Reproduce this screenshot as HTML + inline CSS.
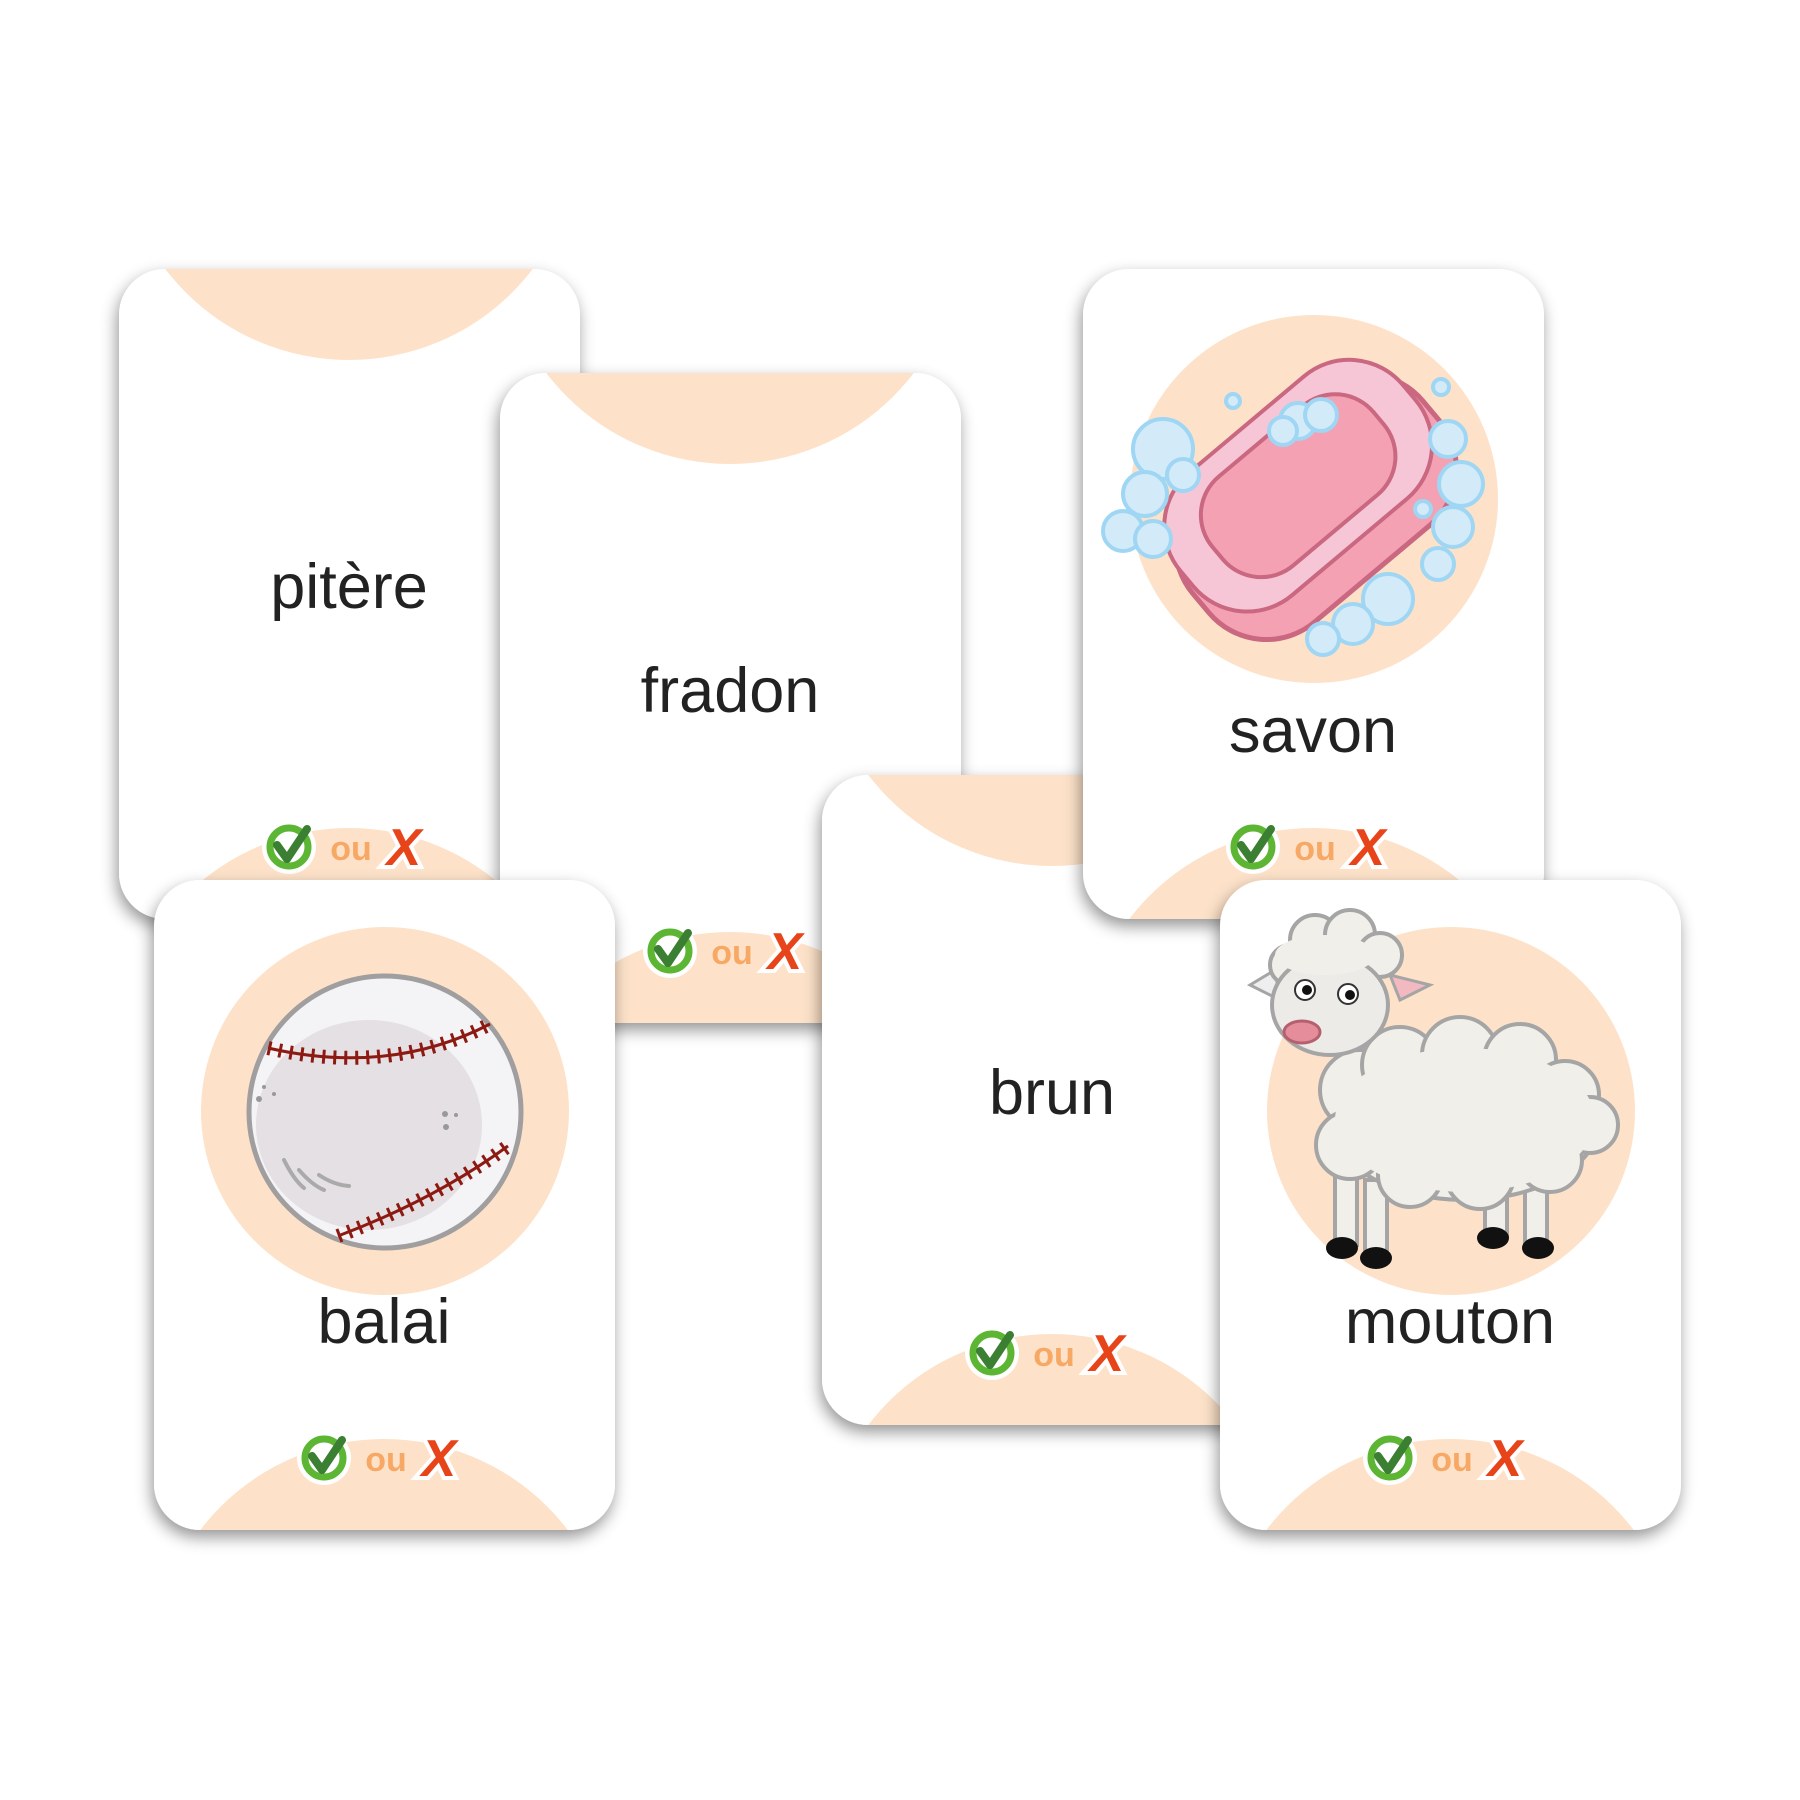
<!DOCTYPE html>
<html><head><meta charset="utf-8">
<style>
html,body{margin:0;padding:0;background:#fff;width:1800px;height:1800px;overflow:hidden;}
svg{display:block;}
.w{font-family:"Liberation Sans","DejaVu Sans",sans-serif;font-size:63px;fill:#222;text-anchor:middle;}
.ou{font-family:"Liberation Sans","DejaVu Sans",sans-serif;font-size:34px;font-weight:bold;fill:#f7a864;text-anchor:middle;}
.x{font-family:"Liberation Sans","DejaVu Sans",sans-serif;font-size:52px;font-weight:bold;font-style:italic;fill:#e8441a;stroke:#fff;stroke-width:8;paint-order:stroke;text-anchor:middle;}
</style></head>
<body>
<svg width="1800" height="1800" viewBox="0 0 1800 1800" xmlns="http://www.w3.org/2000/svg">
<defs>
  <filter id="sh" x="-20%" y="-20%" width="140%" height="140%">
    <feDropShadow dx="-2" dy="7" stdDeviation="8" flood-color="#000" flood-opacity="0.42"/>
  </filter>
  <clipPath id="cp"><rect x="0" y="0" width="461" height="650" rx="46"/></clipPath>
  <g id="icons">
    <circle cx="170" cy="578" r="27" fill="#fff"/>
    <circle cx="170" cy="578" r="19" fill="none" stroke="#5cb533" stroke-width="7"/>
    <path d="M158 576 L168 590 L188 560" fill="none" stroke="#3b7f32" stroke-width="8" stroke-linecap="round" stroke-linejoin="round"/>
    <text class="ou" x="232" y="591">ou</text>
    <text class="x" x="285" y="596">X</text>
  </g>
  <g id="topArc"><circle cx="230" cy="-140" r="231" fill="#fde2c9"/></g>
  <g id="botArc"><circle cx="230" cy="790" r="231" fill="#fde2c9"/></g>
</defs>

<g transform="translate(119,269)">
  <rect width="461" height="650" rx="46" fill="#fff" filter="url(#sh)"/>
  <g clip-path="url(#cp)"><use href="#topArc"/><use href="#botArc"/></g>
  <text class="w" x="230" y="339">pitère</text>
  <use href="#icons"/>
</g>

<g transform="translate(500,373)">
  <rect width="461" height="650" rx="46" fill="#fff" filter="url(#sh)"/>
  <g clip-path="url(#cp)"><use href="#topArc"/><use href="#botArc"/></g>
  <text class="w" x="230" y="339">fradon</text>
  <use href="#icons"/>
</g>

<g transform="translate(822,775)">
  <rect width="461" height="650" rx="46" fill="#fff" filter="url(#sh)"/>
  <g clip-path="url(#cp)"><use href="#topArc"/><use href="#botArc"/></g>
  <text class="w" x="230" y="339">brun</text>
  <use href="#icons"/>
</g>

<g transform="translate(1083,269)">
  <rect width="461" height="650" rx="46" fill="#fff" filter="url(#sh)"/>
  <g clip-path="url(#cp)"><use href="#botArc"/></g>
  <circle cx="231" cy="230" r="184" fill="#fde2c9"/>
  <g transform="translate(228,232) rotate(-40)">
    <rect x="-150" y="-80" width="300" height="175" rx="75" fill="#f4a1b4" stroke="#c96880" stroke-width="5"/>
    <rect x="-145" y="-100" width="290" height="160" rx="70" fill="#f7c6d6" stroke="#c96880" stroke-width="4"/>
    <rect x="-105" y="-78" width="210" height="116" rx="50" fill="#f4a1b4" stroke="#c96880" stroke-width="4"/>
  </g>
  <g fill="#d3eaf9" stroke="#9fd6f3" stroke-width="4">
    <circle cx="215" cy="152" r="18"/><circle cx="238" cy="146" r="16"/><circle cx="200" cy="162" r="14"/>
    <circle cx="80" cy="180" r="30"/><circle cx="62" cy="225" r="22"/><circle cx="40" cy="262" r="20"/><circle cx="70" cy="270" r="18"/><circle cx="100" cy="206" r="16"/>
    <circle cx="365" cy="170" r="18"/><circle cx="378" cy="215" r="22"/><circle cx="370" cy="258" r="20"/><circle cx="355" cy="295" r="16"/>
    <circle cx="305" cy="330" r="25"/><circle cx="270" cy="355" r="20"/><circle cx="240" cy="370" r="16"/>
    <circle cx="150" cy="132" r="7"/><circle cx="358" cy="118" r="8"/><circle cx="340" cy="240" r="8"/>
  </g>
  <text class="w" x="230" y="483">savon</text>
  <use href="#icons"/>
</g>

<g transform="translate(154,880)">
  <rect width="461" height="650" rx="46" fill="#fff" filter="url(#sh)"/>
  <g clip-path="url(#cp)"><use href="#botArc"/></g>
  <circle cx="231" cy="231" r="184" fill="#fde2c9"/>
  <circle cx="231" cy="232" r="136" fill="#f4f3f6" stroke="#a09e9f" stroke-width="5"/>
  <ellipse cx="215" cy="245" rx="113" ry="105" fill="#e5e0e4"/>
  <path d="M114 168 Q236 196 336 144" fill="none" stroke="#8d1a12" stroke-width="14" stroke-dasharray="3 8"/>
  <path d="M114 168 Q236 196 336 144" fill="none" stroke="#8d1a12" stroke-width="3"/>
  <path d="M184 356 Q280 320 354 266" fill="none" stroke="#8d1a12" stroke-width="14" stroke-dasharray="3 8"/>
  <path d="M184 356 Q280 320 354 266" fill="none" stroke="#8d1a12" stroke-width="3"/>
  <g fill="#999"><circle cx="105" cy="219" r="3"/><circle cx="110" cy="207" r="2"/><circle cx="120" cy="214" r="2"/><circle cx="291" cy="234" r="3"/><circle cx="292" cy="247" r="3"/><circle cx="302" cy="235" r="2"/></g>
  <path d="M130 280 Q140 300 150 308 M145 290 Q158 305 170 310 M165 295 Q180 305 195 306" fill="none" stroke="#aaa" stroke-width="4" stroke-linecap="round"/>
  <text class="w" x="230" y="463">balai</text>
  <use href="#icons"/>
</g>

<g transform="translate(1220,880)">
  <rect width="461" height="650" rx="46" fill="#fff" filter="url(#sh)"/>
  <g clip-path="url(#cp)"><use href="#botArc"/></g>
  <circle cx="231" cy="231" r="184" fill="#fde2c9"/>
  <g transform="translate(0,30)">
  <g stroke="#a5a5a5" stroke-width="4">
    <rect x="115" y="260" width="22" height="75" fill="#f1efea"/>
    <rect x="145" y="270" width="22" height="75" fill="#f1efea"/>
    <rect x="265" y="260" width="22" height="65" fill="#f1efea"/>
    <rect x="305" y="265" width="22" height="70" fill="#f1efea"/>
  </g>
  <g fill="#111"><ellipse cx="122" cy="338" rx="16" ry="11"/><ellipse cx="156" cy="348" rx="16" ry="11"/><ellipse cx="273" cy="328" rx="16" ry="11"/><ellipse cx="318" cy="338" rx="16" ry="11"/></g>
  <g fill="#f1efea" stroke="#a5a5a5" stroke-width="4">
    <ellipse cx="245" cy="210" rx="135" ry="80"/>
    <circle cx="140" cy="180" r="40"/><circle cx="180" cy="155" r="38"/><circle cx="240" cy="145" r="38"/><circle cx="300" cy="150" r="36"/><circle cx="345" cy="185" r="34"/><circle cx="370" cy="215" r="28"/>
    <circle cx="130" cy="235" r="34"/><circle cx="190" cy="265" r="32"/><circle cx="260" cy="265" r="34"/><circle cx="330" cy="250" r="32"/>
  </g>
  <ellipse cx="245" cy="210" rx="130" ry="72" fill="#f1efea"/>
  <path d="M30 75 L55 60 L60 90 Z" fill="#eee" stroke="#a5a5a5" stroke-width="3"/>
  <path d="M170 65 L210 75 L180 90 Z" fill="#f2b9c0" stroke="#a5a5a5" stroke-width="3"/>
  <g fill="#f1efea" stroke="#a5a5a5" stroke-width="4">
    <circle cx="95" cy="30" r="25"/><circle cx="130" cy="25" r="25"/><circle cx="160" cy="45" r="22"/><circle cx="70" cy="55" r="20"/>
  </g>
  <ellipse cx="110" cy="95" rx="58" ry="50" fill="#ecebe8" stroke="#a5a5a5" stroke-width="4"/>
  <ellipse cx="105" cy="45" rx="50" ry="20" fill="#f1efea"/>
  <circle cx="85" cy="80" r="10" fill="#fff" stroke="#333" stroke-width="2"/><circle cx="87" cy="80" r="5" fill="#111"/>
  <circle cx="128" cy="84" r="10" fill="#fff" stroke="#333" stroke-width="2"/><circle cx="130" cy="85" r="5" fill="#111"/>
  <ellipse cx="82" cy="122" rx="18" ry="11" fill="#e58d9b" stroke="#b5606f" stroke-width="3"/>
  </g>
  <text class="w" x="230" y="463">mouton</text>
  <use href="#icons"/>
</g>
</svg>
</body></html>
